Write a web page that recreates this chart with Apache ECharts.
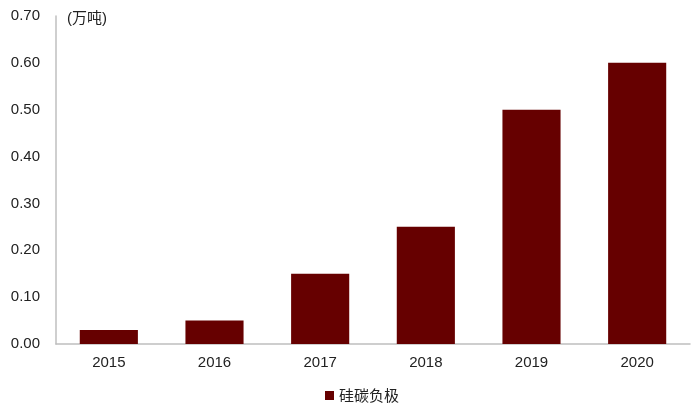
<!DOCTYPE html>
<html><head><meta charset="utf-8">
<script src="https://cdn.jsdelivr.net/npm/echarts@6/dist/echarts.min.js"></script>
<style>html,body{margin:0;padding:0;background:#fff}#c{width:700px;height:411px}</style>
</head><body><div id="c"></div>
<script>
const categories = ['2015','2016','2017','2018','2019','2020'];
const values = [0.03, 0.05, 0.15, 0.25, 0.50, 0.60];
const seriesName = '硅碳负极';
const unitLabel = '(万吨)';

const chart = echarts.init(document.getElementById('c'), null, {renderer:'canvas'});
chart.setOption({
  animation:false,
  backgroundColor:'#fff',
  textStyle:{fontFamily:'"Liberation Sans", Arial, "Noto Sans CJK SC", sans-serif'},
  grid:{left:56,right:10,top:16,bottom:67,containLabel:false},
  graphic:[{type:'text',left:67,top:11,style:{text:unitLabel,fontSize:15,fill:'#222',fontFamily:'"Liberation Sans", "Noto Sans CJK SC", sans-serif'}}],
  legend:{bottom:3,left:320,itemWidth:9,itemHeight:9,icon:'rect',itemGap:5,
    textStyle:{fontSize:15,color:'#222',fontFamily:'"Noto Sans CJK SC", sans-serif'},data:[seriesName]},
  xAxis:{type:'category',data:categories,
    axisLine:{lineStyle:{color:'#bfbfbf',width:1.5}},axisTick:{show:false},
    axisLabel:{fontSize:15,color:'#222',margin:11}},
  yAxis:{type:'value',min:0,max:0.7,interval:0.1,
    axisLine:{show:true,lineStyle:{color:'#bfbfbf',width:1.5}},axisTick:{show:false},splitLine:{show:false},
    axisLabel:{fontSize:15,color:'#222',margin:16,formatter:v=>v.toFixed(2)}},
  series:[{name:seriesName,type:'bar',data:values,barWidth:'55%',itemStyle:{color:'#660000'}}]
});
</script></body></html>
